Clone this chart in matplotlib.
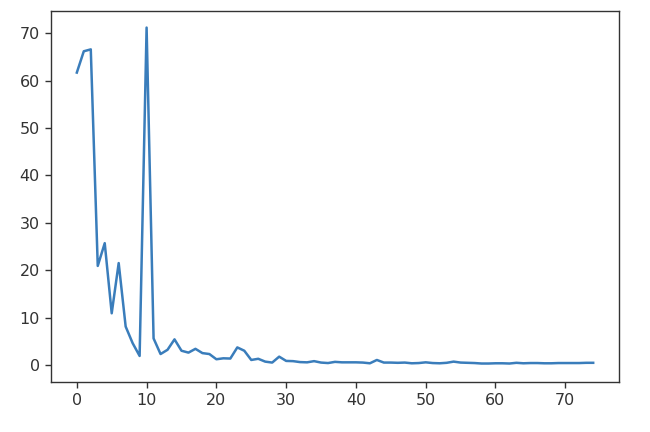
import matplotlib
matplotlib.use("Agg")
import matplotlib.pyplot as plt

x_values = list(range(75))
y_values = [61.7, 66.2, 66.6, 20.9, 25.7, 10.9, 21.5, 8.1, 4.6, 1.9,
            71.2, 5.6, 2.3, 3.2, 5.4, 3.0, 2.6, 3.4, 2.5, 2.3,
            1.2, 1.4, 1.35, 3.7, 3.0, 1.05, 1.3, 0.7, 0.5, 1.75,
            0.85, 0.8, 0.6, 0.55, 0.8, 0.5, 0.4, 0.65, 0.55, 0.55,
            0.55, 0.5, 0.35, 1.05, 0.5, 0.5, 0.45, 0.5, 0.35, 0.4,
            0.55, 0.4, 0.35, 0.45, 0.7, 0.5, 0.45, 0.4, 0.3, 0.3,
            0.35, 0.35, 0.3, 0.45, 0.35, 0.4, 0.4, 0.35, 0.35, 0.4,
            0.4, 0.4, 0.4, 0.45, 0.45]
x_ticks = [0, 10, 20, 30, 40, 50, 60, 70]
y_ticks = [0, 10, 20, 30, 40, 50, 60, 70]

fig = plt.figure(figsize=(6.5, 4.32), dpi=100)
ax = fig.add_axes([51/650, 1-382/432, (619-51)/650, (382-11)/432])
ax.plot(x_values, y_values, color="#3a7dbb", linewidth=1.8)
ax.set_xlim(-3.7, 77.7)
ax.set_ylim(-3.6, 74.7)
ax.set_xticks(x_ticks)
ax.set_yticks(y_ticks)
ax.tick_params(labelsize=11.5, length=4.5, width=1.0, colors="#333333", labelcolor="#333333")
for s in ax.spines.values():
    s.set_linewidth(1.0)
    s.set_color("#333333")
fig.savefig("out.png", dpi=100)
